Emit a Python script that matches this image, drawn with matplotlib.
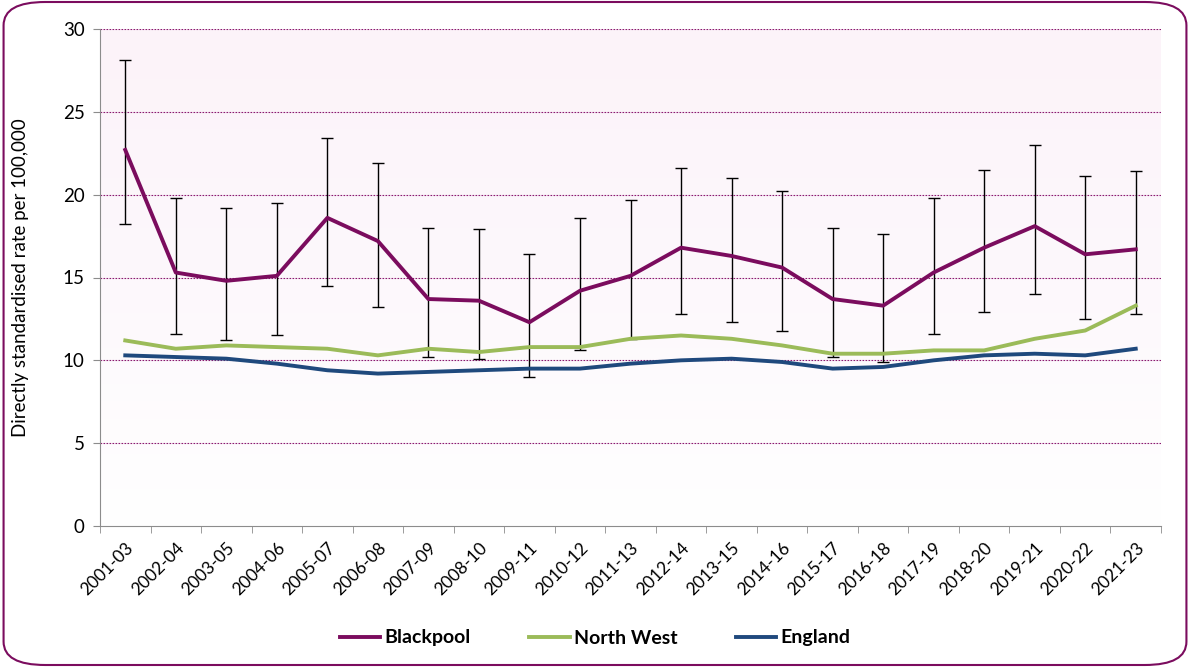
import numpy as np
import matplotlib.pyplot as plt
from matplotlib.patches import FancyBboxPatch
from matplotlib.colors import LinearSegmentedColormap

periods = ['2001-03', '2002-04', '2003-05', '2004-06', '2005-07', '2006-08', '2007-09',
           '2008-10', '2009-11', '2010-12', '2011-13', '2012-14', '2013-15', '2014-16',
           '2015-17', '2016-18', '2017-19', '2018-20', '2019-21', '2020-22', '2021-23']

blackpool = [22.7, 15.3, 14.8, 15.1, 18.6, 17.2, 13.7, 13.6, 12.3, 14.2, 15.1,
             16.8, 16.3, 15.6, 13.7, 13.3, 15.3, 16.8, 18.1, 16.4, 16.7]
blackpool_upper = [28.1, 19.8, 19.2, 19.5, 23.4, 21.9, 18.0, 17.9, 16.4, 18.6, 19.7,
                   21.6, 21.0, 20.2, 18.0, 17.6, 19.8, 21.5, 23.0, 21.1, 21.4]
blackpool_lower = [18.2, 11.6, 11.2, 11.5, 14.5, 13.2, 10.2, 10.1, 9.0, 10.6, 11.3,
                   12.8, 12.3, 11.8, 10.2, 9.9, 11.6, 12.9, 14.0, 12.5, 12.8]
north_west = [11.2, 10.7, 10.9, 10.8, 10.7, 10.3, 10.7, 10.5, 10.8, 10.8, 11.3,
              11.5, 11.3, 10.9, 10.4, 10.4, 10.6, 10.6, 11.3, 11.8, 13.3]
england = [10.3, 10.2, 10.1, 9.8, 9.4, 9.2, 9.3, 9.4, 9.5, 9.5, 9.8,
           10.0, 10.1, 9.9, 9.5, 9.6, 10.0, 10.3, 10.4, 10.3, 10.7]

plt.rcParams['font.family'] = ['Lato', 'DejaVu Sans']

fig = plt.figure(figsize=(11.9, 6.67), dpi=100)
ax = fig.add_axes([100 / 1190, 1 - 526 / 667, 1061 / 1190, 497 / 667])

x = np.arange(len(periods))
ax.set_xlim(-0.5, len(periods) - 0.5)
ax.set_ylim(0, 30)

# very pale pink gradient in the plot area
cmap = LinearSegmentedColormap.from_list('bg', ['#ffffff', '#fdf8fc', '#fcf3f9'])
grad = np.linspace(0, 1, 256).reshape(-1, 1)
ax.imshow(grad, cmap=cmap, aspect='auto', origin='lower',
          extent=[-0.5, len(periods) - 0.5, 0, 30], zorder=0)

for yv in range(5, 31, 5):
    ax.axhline(yv, color='#8b1a70', lw=0.8, ls=(0, (1.5, 1.2)), zorder=1)

yerr = [np.array(blackpool) - np.array(blackpool_lower),
        np.array(blackpool_upper) - np.array(blackpool)]
ax.errorbar(x, blackpool, yerr=yerr, fmt='none', ecolor='black', elinewidth=1,
            capsize=4.5, capthick=1, zorder=2)

ax.plot(x, blackpool, color='#7b0c5e', lw=2.8, label='Blackpool', zorder=3)
ax.plot(x, north_west, color='#9bbb59', lw=2.8, label='North West', zorder=3)
ax.plot(x, england, color='#1f497d', lw=2.8, label='England', zorder=3)

for s in ['top', 'right']:
    ax.spines[s].set_visible(False)
for s in ['left', 'bottom']:
    ax.spines[s].set_color('#8c8c8c')

ax.set_yticks(range(0, 31, 5))
ax.set_xticks(x)
ax.set_xticklabels(periods, rotation=45, ha='right', rotation_mode='anchor', fontsize=12.5)
ax.set_xticks(np.arange(-0.5, len(periods), 1), minor=True)
ax.tick_params(axis='x', which='major', length=0, pad=10)
ax.tick_params(axis='x', which='minor', length=5, color='#8c8c8c')
ax.tick_params(axis='y', length=5, color='#8c8c8c', labelsize=13.5, pad=6)
ax.set_ylabel('Directly standardised rate per 100,000', fontsize=13.5, labelpad=24)

leg = fig.legend(loc='center', bbox_to_anchor=(0.5, 1 - 638 / 667), ncol=3, frameon=False,
                 prop={'weight': 'bold', 'size': 14}, handlelength=2.1, columnspacing=3.0,
                 handletextpad=0.2)

border = FancyBboxPatch((0.003, 0.003), 0.994, 0.994, boxstyle='round,pad=0,rounding_size=0.035',
                        transform=fig.transFigure, fill=False, edgecolor='#7b0c5e', lw=1.5)
fig.patches.append(border)

fig.savefig('out.png', dpi=100)
